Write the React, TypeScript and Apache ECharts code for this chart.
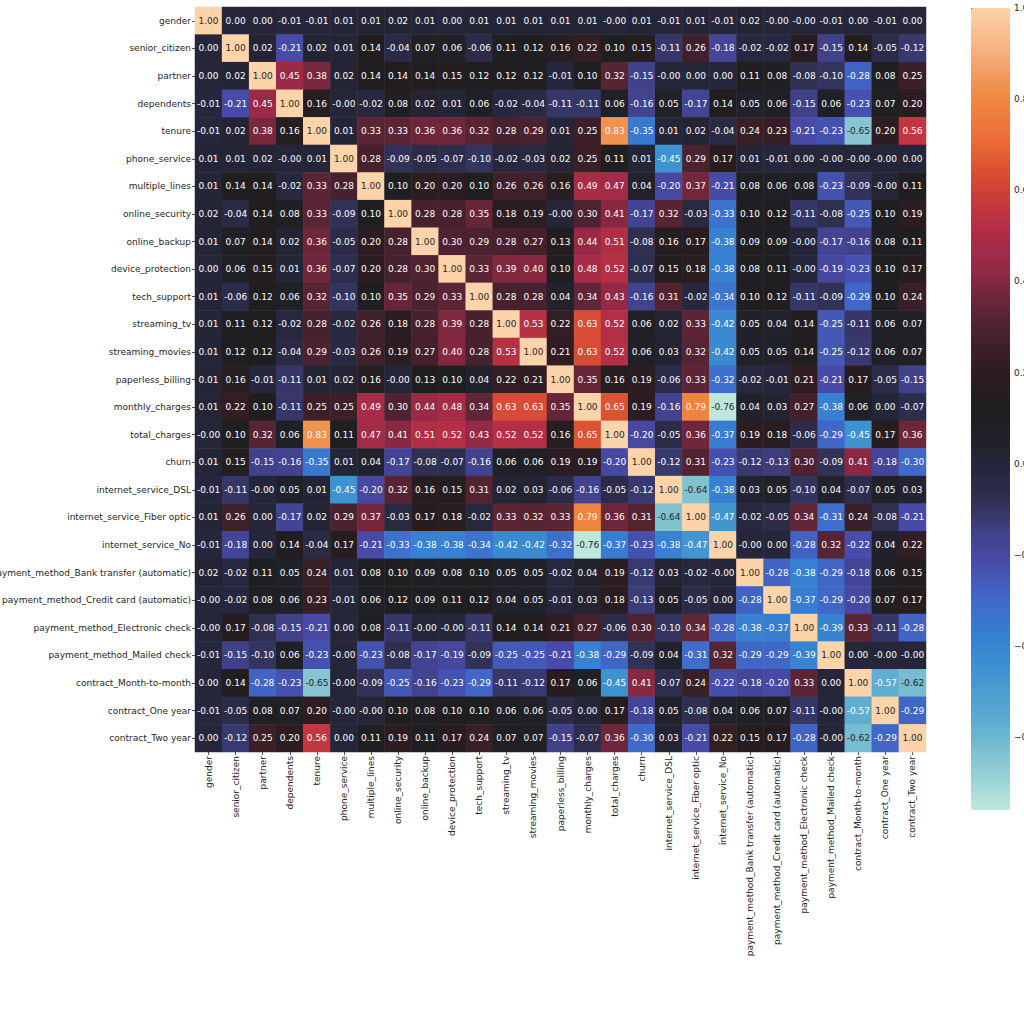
import React, { useEffect, useRef } from "react";
import * as echarts from "echarts";

const categories = [
  "gender",
  "senior_citizen",
  "partner",
  "dependents",
  "tenure",
  "phone_service",
  "multiple_lines",
  "online_security",
  "online_backup",
  "device_protection",
  "tech_support",
  "streaming_tv",
  "streaming_movies",
  "paperless_billing",
  "monthly_charges",
  "total_charges",
  "churn",
  "internet_service_DSL",
  "internet_service_Fiber optic",
  "internet_service_No",
  "payment_method_Bank transfer (automatic)",
  "payment_method_Credit card (automatic)",
  "payment_method_Electronic check",
  "payment_method_Mailed check",
  "contract_Month-to-month",
  "contract_One year",
  "contract_Two year",
];

// correlation matrix rows, as displayed (two decimals)
const corrRows = [
  "1.00 0.00 0.00 -0.01 -0.01 0.01 0.01 0.02 0.01 0.00 0.01 0.01 0.01 0.01 0.01 -0.00 0.01 -0.01 0.01 -0.01 0.02 -0.00 -0.00 -0.01 0.00 -0.01 0.00",
  "0.00 1.00 0.02 -0.21 0.02 0.01 0.14 -0.04 0.07 0.06 -0.06 0.11 0.12 0.16 0.22 0.10 0.15 -0.11 0.26 -0.18 -0.02 -0.02 0.17 -0.15 0.14 -0.05 -0.12",
  "0.00 0.02 1.00 0.45 0.38 0.02 0.14 0.14 0.14 0.15 0.12 0.12 0.12 -0.01 0.10 0.32 -0.15 -0.00 0.00 0.00 0.11 0.08 -0.08 -0.10 -0.28 0.08 0.25",
  "-0.01 -0.21 0.45 1.00 0.16 -0.00 -0.02 0.08 0.02 0.01 0.06 -0.02 -0.04 -0.11 -0.11 0.06 -0.16 0.05 -0.17 0.14 0.05 0.06 -0.15 0.06 -0.23 0.07 0.20",
  "-0.01 0.02 0.38 0.16 1.00 0.01 0.33 0.33 0.36 0.36 0.32 0.28 0.29 0.01 0.25 0.83 -0.35 0.01 0.02 -0.04 0.24 0.23 -0.21 -0.23 -0.65 0.20 0.56",
  "0.01 0.01 0.02 -0.00 0.01 1.00 0.28 -0.09 -0.05 -0.07 -0.10 -0.02 -0.03 0.02 0.25 0.11 0.01 -0.45 0.29 0.17 0.01 -0.01 0.00 -0.00 -0.00 -0.00 0.00",
  "0.01 0.14 0.14 -0.02 0.33 0.28 1.00 0.10 0.20 0.20 0.10 0.26 0.26 0.16 0.49 0.47 0.04 -0.20 0.37 -0.21 0.08 0.06 0.08 -0.23 -0.09 -0.00 0.11",
  "0.02 -0.04 0.14 0.08 0.33 -0.09 0.10 1.00 0.28 0.28 0.35 0.18 0.19 -0.00 0.30 0.41 -0.17 0.32 -0.03 -0.33 0.10 0.12 -0.11 -0.08 -0.25 0.10 0.19",
  "0.01 0.07 0.14 0.02 0.36 -0.05 0.20 0.28 1.00 0.30 0.29 0.28 0.27 0.13 0.44 0.51 -0.08 0.16 0.17 -0.38 0.09 0.09 -0.00 -0.17 -0.16 0.08 0.11",
  "0.00 0.06 0.15 0.01 0.36 -0.07 0.20 0.28 0.30 1.00 0.33 0.39 0.40 0.10 0.48 0.52 -0.07 0.15 0.18 -0.38 0.08 0.11 -0.00 -0.19 -0.23 0.10 0.17",
  "0.01 -0.06 0.12 0.06 0.32 -0.10 0.10 0.35 0.29 0.33 1.00 0.28 0.28 0.04 0.34 0.43 -0.16 0.31 -0.02 -0.34 0.10 0.12 -0.11 -0.09 -0.29 0.10 0.24",
  "0.01 0.11 0.12 -0.02 0.28 -0.02 0.26 0.18 0.28 0.39 0.28 1.00 0.53 0.22 0.63 0.52 0.06 0.02 0.33 -0.42 0.05 0.04 0.14 -0.25 -0.11 0.06 0.07",
  "0.01 0.12 0.12 -0.04 0.29 -0.03 0.26 0.19 0.27 0.40 0.28 0.53 1.00 0.21 0.63 0.52 0.06 0.03 0.32 -0.42 0.05 0.05 0.14 -0.25 -0.12 0.06 0.07",
  "0.01 0.16 -0.01 -0.11 0.01 0.02 0.16 -0.00 0.13 0.10 0.04 0.22 0.21 1.00 0.35 0.16 0.19 -0.06 0.33 -0.32 -0.02 -0.01 0.21 -0.21 0.17 -0.05 -0.15",
  "0.01 0.22 0.10 -0.11 0.25 0.25 0.49 0.30 0.44 0.48 0.34 0.63 0.63 0.35 1.00 0.65 0.19 -0.16 0.79 -0.76 0.04 0.03 0.27 -0.38 0.06 0.00 -0.07",
  "-0.00 0.10 0.32 0.06 0.83 0.11 0.47 0.41 0.51 0.52 0.43 0.52 0.52 0.16 0.65 1.00 -0.20 -0.05 0.36 -0.37 0.19 0.18 -0.06 -0.29 -0.45 0.17 0.36",
  "0.01 0.15 -0.15 -0.16 -0.35 0.01 0.04 -0.17 -0.08 -0.07 -0.16 0.06 0.06 0.19 0.19 -0.20 1.00 -0.12 0.31 -0.23 -0.12 -0.13 0.30 -0.09 0.41 -0.18 -0.30",
  "-0.01 -0.11 -0.00 0.05 0.01 -0.45 -0.20 0.32 0.16 0.15 0.31 0.02 0.03 -0.06 -0.16 -0.05 -0.12 1.00 -0.64 -0.38 0.03 0.05 -0.10 0.04 -0.07 0.05 0.03",
  "0.01 0.26 0.00 -0.17 0.02 0.29 0.37 -0.03 0.17 0.18 -0.02 0.33 0.32 0.33 0.79 0.36 0.31 -0.64 1.00 -0.47 -0.02 -0.05 0.34 -0.31 0.24 -0.08 -0.21",
  "-0.01 -0.18 0.00 0.14 -0.04 0.17 -0.21 -0.33 -0.38 -0.38 -0.34 -0.42 -0.42 -0.32 -0.76 -0.37 -0.23 -0.38 -0.47 1.00 -0.00 0.00 -0.28 0.32 -0.22 0.04 0.22",
  "0.02 -0.02 0.11 0.05 0.24 0.01 0.08 0.10 0.09 0.08 0.10 0.05 0.05 -0.02 0.04 0.19 -0.12 0.03 -0.02 -0.00 1.00 -0.28 -0.38 -0.29 -0.18 0.06 0.15",
  "-0.00 -0.02 0.08 0.06 0.23 -0.01 0.06 0.12 0.09 0.11 0.12 0.04 0.05 -0.01 0.03 0.18 -0.13 0.05 -0.05 0.00 -0.28 1.00 -0.37 -0.29 -0.20 0.07 0.17",
  "-0.00 0.17 -0.08 -0.15 -0.21 0.00 0.08 -0.11 -0.00 -0.00 -0.11 0.14 0.14 0.21 0.27 -0.06 0.30 -0.10 0.34 -0.28 -0.38 -0.37 1.00 -0.39 0.33 -0.11 -0.28",
  "-0.01 -0.15 -0.10 0.06 -0.23 -0.00 -0.23 -0.08 -0.17 -0.19 -0.09 -0.25 -0.25 -0.21 -0.38 -0.29 -0.09 0.04 -0.31 0.32 -0.29 -0.29 -0.39 1.00 0.00 -0.00 -0.00",
  "0.00 0.14 -0.28 -0.23 -0.65 -0.00 -0.09 -0.25 -0.16 -0.23 -0.29 -0.11 -0.12 0.17 0.06 -0.45 0.41 -0.07 0.24 -0.22 -0.18 -0.20 0.33 0.00 1.00 -0.57 -0.62",
  "-0.01 -0.05 0.08 0.07 0.20 -0.00 -0.00 0.10 0.08 0.10 0.10 0.06 0.06 -0.05 0.00 0.17 -0.18 0.05 -0.08 0.04 0.06 0.07 -0.11 -0.00 -0.57 1.00 -0.29",
  "0.00 -0.12 0.25 0.20 0.56 0.00 0.11 0.19 0.11 0.17 0.24 0.07 0.07 -0.15 -0.07 0.36 -0.30 0.03 -0.21 0.22 0.15 0.17 -0.28 -0.00 -0.62 -0.29 1.00",
];

const valueMin = -0.76;
const valueMax = 1.0;
const colorbarTicks = [1, 0.8, 0.6, 0.4, 0.2, 0, -0.2, -0.4, -0.6];

// icefire-like colormap stops (position 0..1 along the colormap)
const ICEFIRE: [number, string][] = [
  [0.0, "#bfe8dc"],
  [0.0625, "#86c5d1"],
  [0.108, "#5eadd0"],
  [0.176, "#3d92d0"],
  [0.216, "#3680d2"],
  [0.261, "#3f6acb"],
  [0.313, "#4749a6"],
  [0.347, "#41418a"],
  [0.386, "#2f2f50"],
  [0.432, "#25263a"],
  [0.466, "#202027"],
  [0.5, "#1f1e1f"],
  [0.545, "#2c1d22"],
  [0.574, "#3c1f28"],
  [0.619, "#5a2536"],
  [0.659, "#85283f"],
  [0.687, "#9c2a48"],
  [0.727, "#b32e46"],
  [0.75, "#c4363f"],
  [0.79, "#d84a33"],
  [0.83, "#e86a35"],
  [0.881, "#ef8540"],
  [0.903, "#f0914f"],
  [0.943, "#f6ae7c"],
  [1.0, "#fdd3aa"],
];

function hexToRgb(h: string): number[] {
  const n = parseInt(h.slice(1), 16);
  return [(n >> 16) & 255, (n >> 8) & 255, n & 255];
}

function cmap(t: number): number[] {
  const tt = Math.max(0, Math.min(1, t));
  for (let i = 1; i < ICEFIRE.length; i++) {
    const [p1, c1] = ICEFIRE[i];
    const [p0, c0] = ICEFIRE[i - 1];
    if (tt <= p1) {
      const f = (tt - p0) / (p1 - p0 || 1);
      const a = hexToRgb(c0);
      const b = hexToRgb(c1);
      return a.map((v, k) => Math.round(v + (b[k] - v) * f));
    }
  }
  return hexToRgb(ICEFIRE[ICEFIRE.length - 1][1]);
}

function rgbStr(c: number[]): string {
  return `rgb(${c[0]},${c[1]},${c[2]})`;
}

function luminance(c: number[]): number {
  const lin = c.map((v) => {
    const s = v / 255;
    return s <= 0.03928 ? s / 12.92 : Math.pow((s + 0.055) / 1.055, 2.4);
  });
  return 0.2126 * lin[0] + 0.7152 * lin[1] + 0.0722 * lin[2];
}

const FONT = "DejaVu Sans";
const TEXT_DARK = "#262626";

export default function App() {
  const ref = useRef<HTMLDivElement>(null);

  useEffect(() => {
    document.body.style.margin = "0";
    if (!ref.current) return;
    const chart = echarts.init(ref.current, null, { renderer: "svg" });

    const tokens = corrRows.map((r) => r.trim().split(/\s+/));
    const data: any[] = [];
    tokens.forEach((row, yi) => {
      row.forEach((tok, xi) => {
        const v = parseFloat(tok);
        const c = cmap((v - valueMin) / (valueMax - valueMin));
        const txt = luminance(c) > 0.408 ? TEXT_DARK : "#ffffff";
        data.push({
          value: [xi, yi, v],
          label: { color: txt },
        });
      });
    });

    const N = 128;
    const mapColors: string[] = [];
    for (let i = 0; i < N; i++) mapColors.push(rgbStr(cmap(i / (N - 1))));

    const option: any = {
      animation: false,
      backgroundColor: "#ffffff",
      textStyle: { fontFamily: FONT },
      grid: [
        {
          left: 195,
          top: 7,
          width: 731,
          height: 745,
          containLabel: false,
          outerBoundsMode: "none",
        },
        {
          left: 971,
          top: 8,
          width: 39,
          height: 802,
          containLabel: false,
          outerBoundsMode: "none",
        },
      ],
      xAxis: [
        {
          type: "category",
          gridIndex: 0,
          data: categories,
          position: "bottom",
          axisLine: { show: false },
          axisTick: {
            show: true,
            alignWithLabel: true,
            length: 3,
            lineStyle: { color: TEXT_DARK, width: 0.8 },
          },
          axisLabel: {
            interval: 0,
            rotate: 90,
            fontSize: 9,
            fontFamily: FONT,
            color: TEXT_DARK,
            margin: 4,
            hideOverlap: false,
          },
          splitLine: { show: false },
        },
        { type: "value", gridIndex: 1, show: false, min: 0, max: 1 },
      ],
      yAxis: [
        {
          type: "category",
          gridIndex: 0,
          data: categories,
          inverse: true,
          axisLine: { show: false },
          axisTick: {
            show: true,
            alignWithLabel: true,
            length: 3,
            lineStyle: { color: TEXT_DARK, width: 0.8 },
          },
          axisLabel: {
            interval: 0,
            fontSize: 9,
            fontFamily: FONT,
            color: TEXT_DARK,
            margin: 4,
            hideOverlap: false,
          },
          splitLine: { show: false },
        },
        {
          type: "value",
          gridIndex: 1,
          min: valueMin,
          max: valueMax,
          position: "right",
          axisLine: { show: false },
          splitLine: { show: false },
          axisTick: {
            show: true,
            length: 3,
            customValues: colorbarTicks,
            lineStyle: { color: TEXT_DARK, width: 0.8 },
          },
          axisLabel: {
            customValues: colorbarTicks,
            fontSize: 9,
            fontFamily: FONT,
            color: TEXT_DARK,
            margin: 4,
            align: "left",
            formatter: (v: number) => v.toFixed(1).replace("-", "\u2212"),
          },
        },
      ],
      visualMap: {
        type: "continuous",
        min: valueMin,
        max: valueMax,
        calculable: false,
        hoverLink: false,
        orient: "vertical",
        left: 971,
        top: 8,
        padding: 0,
        itemWidth: 39,
        itemHeight: 802,
        seriesIndex: 0,
        text: null,
        showLabel: false,
        inRange: { color: mapColors },
      },
      series: [
        {
          type: "heatmap",
          xAxisIndex: 0,
          yAxisIndex: 0,
          data,
          progressive: 0,
          label: {
            show: true,
            fontSize: 9,
            fontFamily: FONT,
            formatter: (p: any) => tokens[p.value[1]][p.value[0]],
          },
          emphasis: { disabled: true },
        },
      ],
    };

    chart.setOption(option);
    return () => chart.dispose();
  }, []);

  return <div ref={ref} style={{ width: 1024, height: 1024 }} />;
}
